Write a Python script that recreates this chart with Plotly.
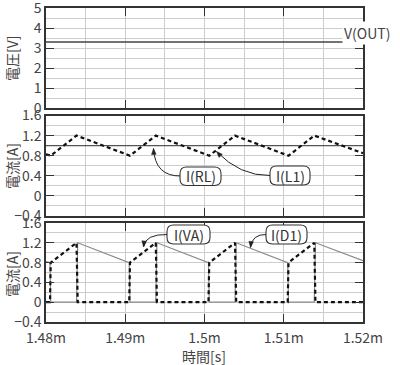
import plotly.graph_objects as go

# ---------------- data (time in ms) ----------------
t_vout = [1.48, 1.52]
v_out = [3.3, 3.3]

t_rl = [1.48, 1.52]
i_rl = [1.0, 1.0]

t_l1 = [1.48, 1.4806, 1.48385, 1.4906, 1.49385, 1.5006, 1.50385, 1.5106, 1.51385, 1.52]
i_l1 = [0.83, 0.80, 1.20, 0.80, 1.20, 0.80, 1.20, 0.80, 1.20, 0.85]

t_va = [1.48, 1.4805, 1.4806, 1.48385, 1.4840, 1.4905, 1.4906, 1.49385, 1.4940,
        1.5005, 1.5006, 1.50385, 1.5040, 1.5105, 1.5106, 1.51385, 1.5140, 1.52]
i_va = [0, 0, 0.80, 1.20, 0, 0, 0.80, 1.20, 0,
        0, 0.80, 1.20, 0, 0, 0.80, 1.20, 0, 0]

t_d1 = [1.48, 1.4805, 1.4806, 1.48385, 1.4840, 1.4905, 1.4906, 1.49385, 1.4940,
        1.5005, 1.5006, 1.50385, 1.5040, 1.5105, 1.5106, 1.51385, 1.5140, 1.52]
i_d1 = [0.82, 0.80, 0, 0, 1.20, 0.80, 0, 0, 1.20,
        0.80, 0, 0, 1.20, 0.80, 0, 0, 1.20, 0.84]

x_tick_vals = [1.48, 1.49, 1.50, 1.51, 1.52]
x_tick_text = ["1.48m", "1.49m", "1.5m", "1.51m", "1.52m"]
x_minor_vals = [1.485, 1.495, 1.505, 1.515]

v_tick_vals = [0, 1, 2, 3, 4, 5]
v_tick_text = ["0", "1", "2", "3", "4", "5"]
v_minor_vals = [0.5, 1.5, 2.5, 3.5, 4.5]

i_tick_vals = [-0.4, 0, 0.4, 0.8, 1.2, 1.6]
i_tick_text = ["\u22120.4", "0", "0.4", "0.8", "1.2", "1.6"]
i_minor_vals = [-0.2, 0.2, 0.6, 1.0, 1.4]

W, H = 400, 365
FONT = "Noto Sans CJK JP"
TXT = "#444444"
GRID = "#cdcdcd"
FRAME = "#333333"


def px(x):
    return x / W


def py(y):
    return 1 - y / H


# panel pixel extents
PX0, PX1 = 46, 363
panels = [(8, 108), (115.5, 216), (223, 322)]

fig = go.Figure()

fig.add_trace(go.Scatter(x=t_vout, y=v_out, mode="lines", xaxis="x", yaxis="y",
                         line=dict(color="#444444", width=1.5), name="V(OUT)"))
fig.add_trace(go.Scatter(x=t_rl, y=i_rl, mode="lines", xaxis="x2", yaxis="y2",
                         line=dict(color="#555555", width=1.3), name="I(RL)"))
fig.add_trace(go.Scatter(x=t_l1, y=i_l1, mode="lines", xaxis="x2", yaxis="y2",
                         line=dict(color="#111111", width=2.2, dash="4px,3px"), name="I(L1)"))
fig.add_trace(go.Scatter(x=t_d1, y=i_d1, mode="lines", xaxis="x3", yaxis="y3",
                         line=dict(color="#8a8a8a", width=1.2), name="I(D1)"))
fig.add_trace(go.Scatter(x=t_va, y=i_va, mode="lines", xaxis="x3", yaxis="y3",
                         line=dict(color="#111111", width=2.2, dash="4px,3px"), name="I(VA)"))

tickfont = dict(family=FONT, size=14, color=TXT)


def xaxis(anchor, labels):
    return dict(domain=[px(PX0), px(PX1)], anchor=anchor, range=[1.48, 1.52],
                automargin=False,
                showline=True, linecolor=FRAME, linewidth=1.5, mirror="ticks",
                ticks="inside", ticklen=8, tickwidth=1.3, tickcolor=FRAME,
                tickmode="array", tickvals=x_tick_vals, ticktext=x_tick_text,
                showticklabels=labels, tickfont=tickfont, ticklabelstandoff=2,
                ticklabeloverflow="allow",
                showgrid=True, gridcolor=GRID, gridwidth=1, zeroline=False,
                minor=dict(tickmode="array", tickvals=x_minor_vals, showgrid=True,
                           gridcolor=GRID, gridwidth=1, ticks=""))


def yaxis(anchor, dom, rng, tv, tt, mv):
    return dict(domain=[py(dom[1]), py(dom[0])], anchor=anchor, range=rng,
                automargin=False,
                showline=True, linecolor=FRAME, linewidth=1.5, mirror="ticks",
                ticks="inside", ticklen=8, tickwidth=1.3, tickcolor=FRAME,
                tickmode="array", tickvals=tv, ticktext=tt, tickfont=tickfont,
                ticklabeloverflow="allow",
                showgrid=True, gridcolor=GRID, gridwidth=1, zeroline=False,
                minor=dict(tickmode="array", tickvals=mv, showgrid=True,
                           gridcolor=GRID, gridwidth=1, ticks=""))


shapes = []
annotations = []


def rrect(x0, y0, x1, y1, r):
    pts = [
        ("M", [(x0 + r, y0)]), ("L", [(x1 - r, y0)]), ("Q", [(x1, y0), (x1, y0 + r)]),
        ("L", [(x1, y1 - r)]), ("Q", [(x1, y1), (x1 - r, y1)]), ("L", [(x0 + r, y1)]),
        ("Q", [(x0, y1), (x0, y1 - r)]), ("L", [(x0, y0 + r)]), ("Q", [(x0, y0), (x0 + r, y0)]),
    ]
    s = ""
    for cmd, ps in pts:
        s += cmd + " " + " ".join(f"{px(a):.5f},{py(b):.5f}" for a, b in ps) + " "
    return s + "Z"


def label_box(text, x0, y0, x1, y1):
    shapes.append(dict(type="path", xref="paper", yref="paper", layer="above",
                       path=rrect(x0, y0, x1, y1, 6.5),
                       line=dict(color="#333333", width=1.1), fillcolor="white"))
    annotations.append(dict(text=text, xref="paper", yref="paper",
                            x=px((x0 + x1) / 2), y=py((y0 + y1) / 2),
                            xanchor="center", yanchor="middle", showarrow=False,
                            font=dict(family=FONT, size=14, color="#333333")))


def curve_arrow(p0, c, p1):
    shapes.append(dict(type="path", xref="paper", yref="paper", layer="above",
                       path=f"M {px(p0[0]):.5f},{py(p0[1]):.5f} Q {px(c[0]):.5f},{py(c[1]):.5f} "
                            f"{px(p1[0]):.5f},{py(p1[1]):.5f}",
                       line=dict(color="#222222", width=1.0)))
    dx, dy = p1[0] - c[0], p1[1] - c[1]
    n = (dx * dx + dy * dy) ** 0.5
    dx, dy = dx / n, dy / n
    L, hw = 6, 2.3
    bx, by = p1[0] - L * dx, p1[1] - L * dy
    a = (bx - hw * dy, by + hw * dx)
    b = (bx + hw * dy, by - hw * dx)
    shapes.append(dict(type="path", xref="paper", yref="paper", layer="above",
                       path=f"M {px(p1[0]):.5f},{py(p1[1]):.5f} L {px(a[0]):.5f},{py(a[1]):.5f} "
                            f"L {px(b[0]):.5f},{py(b[1]):.5f} Z",
                       line=dict(color="#222222", width=0.5), fillcolor="#222222"))


# arrows first, then boxes on top
curve_arrow((181, 176), (155, 176.5), (153.5, 148.5))
curve_arrow((270, 175.5), (240, 176), (216.5, 151.5))
curve_arrow((167.5, 234.5), (145, 234), (143.5, 247))
curve_arrow((266.5, 234.5), (252, 234), (250.5, 247.5))

label_box("I(RL)", 180, 167, 221, 185.5)
label_box("I(L1)", 270, 166, 310, 185)
label_box("I(VA)", 167, 225, 210, 244)
label_box("I(D1)", 266, 225, 307, 244)

# axis titles and series label
for txt, x, y, ang in [("電圧[V]", 12, 58, -90), ("電流[A]", 12, 166, -90),
                       ("電流[A]", 12, 274, -90), ("時間[s]", 204, 355.5, 0)]:
    annotations.append(dict(text=txt, xref="paper", yref="paper", x=px(x), y=py(y),
                            xanchor="center", yanchor="middle", showarrow=False,
                            textangle=ang, font=dict(family=FONT, size=14, color=TXT)))

annotations.append(dict(text="V(OUT)", xref="paper", yref="paper", x=px(367), y=py(32.5),
                        xanchor="center", yanchor="middle", showarrow=False,
                        bgcolor="white", borderpad=1,
                        font=dict(family=FONT, size=14, color=TXT)))

fig.update_layout(
    width=W, height=H, margin=dict(l=0, r=0, t=0, b=0, autoexpand=False),
    paper_bgcolor="white", plot_bgcolor="white", showlegend=False,
    xaxis=xaxis("y", False), xaxis2=xaxis("y2", False), xaxis3=xaxis("y3", True),
    yaxis=yaxis("x", panels[0], [0, 5], v_tick_vals, v_tick_text, v_minor_vals),
    yaxis2=yaxis("x2", panels[1], [-0.4, 1.6], i_tick_vals, i_tick_text, i_minor_vals),
    yaxis3=yaxis("x3", panels[2], [-0.4, 1.6], i_tick_vals, i_tick_text, i_minor_vals),
    shapes=shapes, annotations=annotations,
)

fig.write_html("out.html", config={"displayModeBar": False},
               post_script="document.body.style.margin='0';document.body.style.overflow='hidden';")
